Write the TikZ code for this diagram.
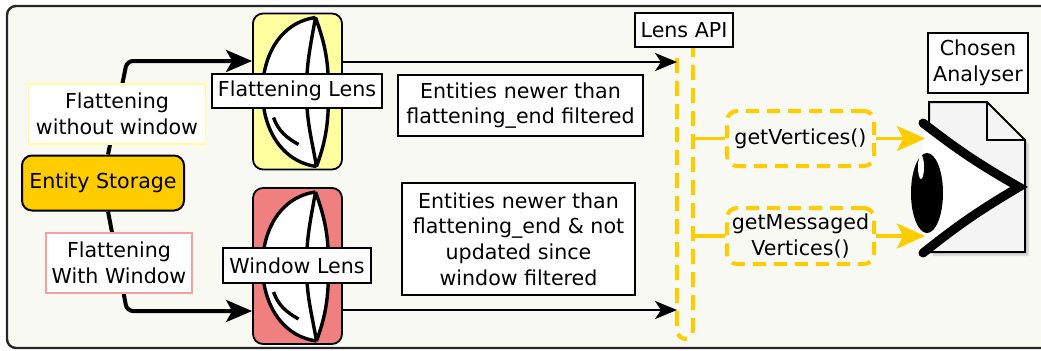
\documentclass[tikz,border=0pt]{standalone}
\usepackage{fontspec}
\setmainfont{DejaVu Sans}
\usetikzlibrary{arrows.meta,shadows}

\definecolor{panelbg}{HTML}{F9F9F4}
\definecolor{storagegold}{HTML}{FFCC00}
\definecolor{lensyellow}{HTML}{FFFFA0}
\definecolor{lensred}{HTML}{F08080}
\definecolor{paleyellow}{HTML}{FFFF99}
\definecolor{palered}{HTML}{F4A0A0}
\definecolor{docgrey}{HTML}{F4F4F4}

\tikzset{
  label box/.style={draw=black, fill=white, line width=0.9pt, inner sep=0pt, align=center},
  lens box/.style={draw=black, line width=0.9pt, rounded corners=5pt, minimum width=44.5pt, minimum height=78pt},
  call box/.style={draw=storagegold, dash pattern=on 6.5pt off 4pt, line width=2pt, rounded corners=5pt,
    minimum width=73.5pt, minimum height=27.5pt, inner sep=0pt, align=center},
  flow/.style={line width=2pt, -{Stealth[length=13pt,width=11pt,inset=3pt]}},
  feed/.style={line width=1pt, -{Stealth[length=11pt,width=9pt,inset=3pt]}},
  api link/.style={draw=storagegold, line width=1.8pt},
  pics/lens/.style={code={
    % glass body
    \fill[white] (18,-74) to[out=188,in=90] (-35,0) to[out=-90,in=172] (19,75)
      to[out=70,in=-90] (31,0) to[out=90,in=-70] (18,-74);
    \begin{scope}[line width=1.7pt]
      \draw (18,-74) to[out=188,in=90] (-35,0) to[out=-90,in=172] (19,75);
      \draw (18,-74) to[out=-100,in=90] (9,0) to[out=-90,in=100] (19,75);
      \draw (19,75) to[out=70,in=-90] (31,0) to[out=90,in=-70] (18,-74);
      % glint
      \draw (-24,26) to[out=-70,in=150] (1,53);
    \end{scope}
  }}
}

\begin{document}
\begin{tikzpicture}[x=0.5pt, y=-0.5pt, font=\fontsize{10.3pt}{12.8pt}\selectfont]
\useasboundingbox (0,0) rectangle (1041,350);
\draw[fill=panelbg, draw=black!85, line width=1.2pt, rounded corners=4.5pt] (7,6) rectangle (1070,348);

% storage and the two lenses
\node[draw, line width=1pt, fill=storagegold, rounded corners=5pt, minimum width=81pt, minimum height=27.5pt, inner sep=0pt] (storage) at (103,183) {Entity Storage};
\node[lens box, fill=lensyellow] (flatlens) at (297.5,91.5) {};
\pic at (flatlens.center) {lens};
\node[lens box, fill=lensred] (winlens) at (297.5,266) {};
\pic at (winlens.center) {lens};

% storage feeding the lenses
\draw[flow, rounded corners=3pt] (storage.80) -- (127,61) -- ([yshift=15.25pt]flatlens.west);
\draw[flow, rounded corners=3pt] (storage.-80) -- (127,311) -- ([yshift=-22.5pt]winlens.west);
\node[label box, draw=paleyellow, minimum width=88.5pt, minimum height=30pt] (nowin) at (117,114) {Flattening\\without window};
\node[label box, draw=palered, minimum width=73pt, minimum height=30pt] (withwin) at (119,263) {Flattening\\With Window};

\node[label box, minimum width=85pt, minimum height=17pt] (flatlabel) at (297,91) {Flattening Lens};
\node[label box, minimum width=74pt, minimum height=17.5pt] (winlabel) at (297,265.5) {Window Lens};

% api lifeline
\node[label box, minimum width=49pt, minimum height=17pt] (api) at (684,30) {Lens API};
\draw[storagegold, line width=2pt, dash pattern=on 7.5pt off 4pt, rounded corners=4.5pt] (677,58) -- (677,339) -- (693,339) -- (693,48);
\coordinate (lensin1) at (677,62);
\coordinate (lensin2) at (677,310);
\draw[feed] ([yshift=14.75pt]flatlens.east) -- (lensin1);
\draw[feed] ([yshift=-22pt]winlens.east) -- (lensin2);

\node[label box, minimum width=122.5pt, minimum height=30.5pt] (filt1) at (520.5,105.5) {Entities newer than\\flattening\_end filtered};
\node[label box, minimum width=116.5pt, minimum height=56pt] (filt2) at (518.5,239) {Entities newer than\\flattening\_end \& not\\updated since\\window filtered};

% calls
\node[call box] (getv) at (800.5,138.5) {getVertices()};
\node[call box, minimum height=28pt] (getmv) at (800.5,236) {getMessaged\\Vertices()};
\coordinate (tap1) at (693,138.5);
\coordinate (tap2) at (693,236);
\draw[api link] (tap1) -- (getv.west);
\draw[api link] (tap2) -- (getmv.west);

% analyser: page with an eye
\filldraw[fill=docgrey, draw=black, line width=1pt, drop shadow={shadow xshift=2pt, shadow yshift=-2pt, opacity=0.25}]
  (929,102) -- (987,102) -- (1025,140) -- (1025,252) -- (929,252) -- cycle;
\draw[line width=1pt] (987,102) -- (987,140) -- (1025,140);
\fill[white] (923,123) -- (1019,187) -- (923,253) -- cycle;
\draw[line width=4.5pt, line cap=round] (923,123) to[bend right=4] (1019,187) to[bend right=4] (923,253);
\fill (927,193) ellipse [x radius=16, y radius=40];
\fill[white] (921,167) ellipse [x radius=3, y radius=12];
\coordinate (eye1) at (925,138.5);
\coordinate (eye2) at (925,236);
\draw[api link, -{Stealth[length=14pt,width=12.5pt,inset=3pt]}] (getv.east) -- (eye1);
\draw[api link, -{Stealth[length=14pt,width=12.5pt,inset=3pt]}] (getmv.east) -- (eye2);

\node[label box, minimum width=50pt, minimum height=30pt] (chosen) at (978,63) {Chosen\\Analyser};
\end{tikzpicture}
\end{document}
